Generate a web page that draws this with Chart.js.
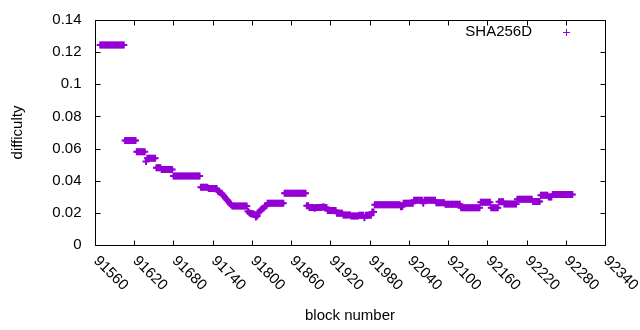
<!DOCTYPE html>
<html>
<head>
<meta charset="utf-8">
<script src="https://cdn.jsdelivr.net/npm/chart.js@4"></script>
<style>
  html, body { margin: 0; padding: 0; background: #fff; }
  #wrap { width: 640px; height: 330px; }
</style>
</head>
<body>
<div id="wrap"><canvas id="chart" width="640" height="330"></canvas></div>
<script>
// difficulty per block, one sample every 2 blocks starting at firstBlock
const firstBlock = 91568;
const blockStep  = 2;
const difficulty = [
  // 91568 - 91604
  0.1245,0.1245,0.1245,0.1245,0.1245,0.1245,0.1245,0.1245,0.1245,0.1245,
  0.1245,0.1245,0.1245,0.1245,0.1245,0.1245,0.1245,0.1245,0.1245,
  // 91606 - 91622
  0.065,0.065,0.065,0.065,0.065,0.065,0.065,0.065,0.065,
  // 91624 - 91636
  0.058,0.058,0.058,0.058,0.058,0.058,0.058,
  // 91638 - 91652
  0.052,0.054,0.054,0.054,0.054,0.054,0.054,0.054,
  // 91654 - 91678
  0.048,0.048,0.048,0.048,
  0.047,0.047,0.047,0.047,0.047,0.047,0.047,0.047,0.047,
  // 91680 - 91720
  0.043,0.043,0.043,0.043,0.043,0.043,0.043,0.043,0.043,0.043,
  0.043,0.043,0.043,0.043,0.043,0.043,0.043,0.043,0.043,0.043,0.043,
  // 91722 - 91746
  0.036,0.036,0.036,0.036,0.036,0.036,
  0.0352,0.0352,0.0352,0.0352,0.0352,0.0352,0.0352,
  // 91748 - 91768
  0.0335,0.033,0.0325,0.032,0.031,0.030,0.029,0.028,0.027,0.026,0.025,
  // 91770 - 91792
  0.0242,0.0242,0.0242,0.0242,0.0242,0.0242,0.0242,0.0242,0.0242,0.0242,0.0242,0.0242,
  // 91794 - 91822
  0.021,0.020,0.0195,0.0195,0.0195,0.019,0.0175,0.018,0.020,0.021,0.022,0.0225,0.023,0.024,0.0245,
  // 91824 - 91848
  0.026,0.026,0.026,0.026,0.026,0.026,0.026,0.026,0.026,0.026,0.026,0.026,0.026,
  // 91850 - 91882
  0.0322,0.0322,0.0322,0.0322,0.0322,0.0322,0.0322,0.0322,0.0322,
  0.0322,0.0322,0.0322,0.0322,0.0322,0.0322,0.0322,0.0322,
  // 91884 - 91914
  0.0245,0.0245,
  0.0233,0.0233,0.0233,0.0233,0.0228,0.0233,0.0233,0.0233,0.0233,0.0233,0.0236,0.0236,0.0233,0.0233,
  // 91916 - 91928
  0.0214,0.0214,0.0214,0.0214,0.0214,0.0214,0.0214,
  // 91930 - 91950
  0.0197,0.0197,0.0197,0.0197,0.0197,
  0.0187,0.0187,0.0187,0.0187,0.0187,0.0187,
  // 91952 - 91982
  0.018,0.018,0.018,0.018,0.018,0.018,
  0.0185,0.0185,0.0185,0.0185,0.017,0.0185,0.0185,0.0185,0.0185,0.0185,
  // 91984 - 91986
  0.0205,0.0205,
  // 91988 - 92026
  0.025,0.025,0.025,0.025,0.025,0.025,0.025,0.025,0.025,0.025,
  0.025,0.025,0.025,0.025,0.025,0.025,0.025,0.025,0.025,0.025,
  // 92028 - 92046
  0.0238,0.024,
  0.026,0.026,0.026,0.026,0.026,0.026,0.026,0.026,
  // 92048 - 92080
  0.0278,0.0278,0.0278,0.0278,0.0278,0.0278,0.0278,0.026,0.0278,
  0.0278,0.0278,0.0278,0.0278,0.0278,0.0278,0.0278,0.0278,
  // 92082 - 92094
  0.0263,0.0263,0.0263,0.0263,0.0263,0.0263,0.0263,
  // 92096 - 92118
  0.0253,0.0253,0.0253,0.0253,0.0253,0.0253,0.0253,0.0253,0.0253,0.0253,0.0253,0.0253,
  // 92120 - 92148
  0.0232,0.0232,0.0232,0.0232,0.0232,0.0232,0.0232,0.0232,0.0232,0.0232,
  0.0232,0.0232,0.0232,0.0232,0.0232,
  // 92150 - 92164
  0.0266,0.0266,0.0266,0.0266,0.0266,0.0266,0.0266,0.0266,
  // 92166 - 92176
  0.0232,0.0232,0.0232,0.0232,0.0232,0.0232,
  // 92178 - 92184
  0.0269,0.0269,0.0269,0.0269,
  // 92186 - 92204
  0.0255,0.0255,0.0255,0.0255,0.0255,0.0255,0.0255,0.0255,0.0255,0.0255,
  // 92206 - 92228
  0.0284,0.0284,0.0284,0.0284,0.0284,0.0284,0.0284,0.0284,0.0284,0.0284,0.0284,0.0284,
  // 92230 - 92240
  0.027,0.027,0.027,0.027,0.027,0.027,
  // 92242 - 92252
  0.031,0.031,0.031,0.031,0.031,0.031,
  // 92254 - 92258
  0.0298,0.0298,0.0298,
  // 92260 - 92290
  0.0315,0.0315,0.0315,0.0315,0.0315,0.0315,0.0315,0.0315,
  0.0315,0.0315,0.0315,0.0315,0.0315,0.0315,0.0315,0.0315
];

const xTicks = [91560, 91620, 91680, 91740, 91800, 91860, 91920, 91980, 92040, 92100, 92160, 92220, 92280, 92340];
const yTicks = [0, 0.02, 0.04, 0.06, 0.08, 0.1, 0.12, 0.14];
const yTickLabels = ['0', '0.02', '0.04', '0.06', '0.08', '0.1', '0.12', '0.14'];
const seriesName = 'SHA256D';
const xTitle = 'block number';
const yTitle = 'difficulty';

const PURPLE = '#9400D3';
const FONT = '15px "Liberation Sans", Arial, sans-serif';

const points = difficulty.map((v, i) => ({ x: firstBlock + i * blockStep, y: v }));

// gnuplot-like frame, inward ticks, rotated labels, key
const gnuplotFrame = {
  id: 'gnuplotFrame',
  afterDraw(chart) {
    const ctx = chart.ctx;
    const a = chart.chartArea;
    const xs = chart.scales.x, ys = chart.scales.y;
    const L = Math.round(a.left) + 0.5, R = Math.round(a.right) + 0.5;
    const T = Math.round(a.top) + 0.5, B = Math.round(a.bottom) + 0.5;
    const tl = 5;

    ctx.save();
    ctx.strokeStyle = '#000';
    ctx.lineWidth = 1;
    ctx.beginPath();
    ctx.rect(L, T, R - L, B - T);
    yTicks.forEach(v => {
      const y = Math.round(ys.getPixelForValue(v)) + 0.5;
      ctx.moveTo(L, y); ctx.lineTo(L + tl, y);
      ctx.moveTo(R, y); ctx.lineTo(R - tl, y);
    });
    xTicks.forEach(v => {
      const x = Math.round(xs.getPixelForValue(v)) + 0.5;
      ctx.moveTo(x, B); ctx.lineTo(x, B - tl);
      ctx.moveTo(x, T); ctx.lineTo(x, T + tl);
    });
    ctx.stroke();

    ctx.fillStyle = '#000';
    ctx.font = FONT;
    ctx.textAlign = 'right';
    ctx.textBaseline = 'middle';
    yTicks.forEach((v, i) => {
      ctx.fillText(yTickLabels[i], L - 14, ys.getPixelForValue(v));
    });

    ctx.textAlign = 'left';
    xTicks.forEach(v => {
      const x = xs.getPixelForValue(v);
      ctx.save();
      ctx.translate(x + 1, B + 13);
      ctx.rotate(Math.PI / 4);
      ctx.fillText(String(v), 0, 0);
      ctx.restore();
    });

    ctx.textAlign = 'center';
    ctx.fillText(xTitle, (a.left + a.right) / 2, 316);
    ctx.save();
    ctx.translate(18, (a.top + a.bottom) / 2);
    ctx.rotate(-Math.PI / 2);
    ctx.fillText(yTitle, 0, 0);
    ctx.restore();

    // key
    ctx.textAlign = 'right';
    ctx.fillText(seriesName, 532, 32);
    ctx.strokeStyle = PURPLE;
    ctx.beginPath();
    ctx.moveTo(563, 32.5); ctx.lineTo(570, 32.5);
    ctx.moveTo(566.5, 29); ctx.lineTo(566.5, 36);
    ctx.stroke();
    ctx.restore();
  }
};

new Chart(document.getElementById('chart'), {
  type: 'scatter',
  data: {
    datasets: [{
      label: seriesName,
      data: points,
      pointStyle: 'cross',
      pointRadius: 3.5,
      pointHoverRadius: 3.5,
      borderColor: PURPLE,
      backgroundColor: PURPLE,
      borderWidth: 2,
    }]
  },
  options: {
    responsive: false,
    animation: false,
    devicePixelRatio: 1,
    layout: { autoPadding: false, padding: { left: 95, right: 35, top: 20, bottom: 85 } },
    plugins: {
      legend: { display: false },
      tooltip: { enabled: false }
    },
    scales: {
      x: { type: 'linear', min: 91560, max: 92340, display: false },
      y: { type: 'linear', min: 0, max: 0.14, display: false }
    }
  },
  plugins: [gnuplotFrame]
});
</script>
</body>
</html>
